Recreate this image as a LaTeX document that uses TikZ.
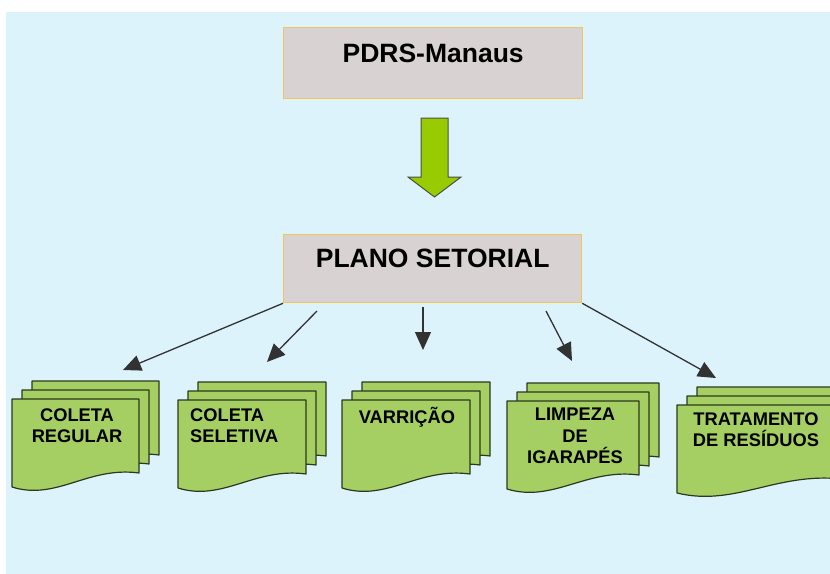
\documentclass[tikz,border=0pt]{standalone}
\usepackage{fontspec}
\setmainfont{Liberation Sans}
\usetikzlibrary{arrows.meta,calc}
\definecolor{bgblue}{RGB}{221,243,252}
\definecolor{boxfill}{RGB}{216,210,211}
\definecolor{boxedge}{RGB}{242,196,90}
\definecolor{docgreen}{RGB}{165,207,98}
\definecolor{docedge}{RGB}{45,55,30}
\definecolor{arrgreen}{RGB}{153,204,0}
\definecolor{lnk}{RGB}{50,50,50}
\newcommand\DocSheet[3]{%
  \filldraw[docsheet] (#1,#2) -- ({#1+#3},#2) -- ({#1+#3},{#2+74})
    .. controls ({#1+0.6*#3},{#2+67}) and ({#1+0.35*#3},{#2+102}) .. (#1,{#2+88}) -- cycle;}
\newcommand\DocStack[3]{%
  \DocSheet{#1+20}{#2-18}{#3}\DocSheet{#1+10}{#2-9}{#3}\DocSheet{#1}{#2}{#3}}
\tikzset{
  docsheet/.style={fill=docgreen,draw=docedge,line width=1.2pt,line join=round},
  mainbox/.style={draw=boxedge,fill=boxfill,line width=1.3pt,inner sep=0pt,
    anchor=north west,font=\bfseries\fontsize{26.5}{30}\selectfont},
  doctext/.style={font=\bfseries\fontsize{18.3}{21.3}\selectfont,inner sep=0pt,text=black},
  link/.style={draw=lnk,line width=1.3pt,-{Triangle[length=18pt,width=16pt]}},
}
\begin{document}
\begin{tikzpicture}[x=1pt,y=-1pt]
\useasboundingbox[fill=white] (0,0) rectangle (830,573);
\clip (0,0) rectangle (830,573);
\fill[bgblue] (6,12) rectangle (831,574);
% top boxes
\node[mainbox,minimum width=299pt,text height=34.5pt,text depth=36.5pt] (pdrs) at (283,27) {PDRS-Manaus};
\node[mainbox,minimum width=298pt,text height=32.5pt,text depth=35.5pt] (plano) at (283,234) {PLANO SETORIAL};
% big green arrow
\filldraw[fill=arrgreen,draw=black!70,line width=1pt,line join=miter]
  (421,118) -- (448,118) -- (448,177) -- (461,177) -- (434.5,197) -- (408,177) -- (421,177) -- cycle;
% document stacks
\DocStack{12}{399}{127}
\DocStack{178}{400}{128}
\DocStack{342}{400}{128}
\DocStack{507}{401}{132}
\DocStack{677}{405}{165}
\node[doctext,align=center] (t1) at (77,425.5) {COLETA\\REGULAR};
\node[doctext,align=left,anchor=west] (t2) at (190,426) {COLETA\\SELETIVA};
\node[doctext] (t3) at (407,417) {VARRIÇÃO};
\node[doctext,align=center] (t4) at (575,436) {LIMPEZA\\DE\\IGARAPÉS};
\node[doctext,align=center] (t5) at (756,429.5) {TRATAMENTO\\DE RESÍDUOS};
% connectors
\coordinate (s2) at (317,311);
\coordinate (s3) at (423,307);
\coordinate (s4) at (546,311);
\coordinate (e1) at (123,370);
\coordinate (e2) at (267,362);
\coordinate (e3) at (423,350);
\coordinate (e4) at (572,361);
\coordinate (e5) at (716,378);
\draw[link] (plano.south west) -- (e1);
\draw[link] (s2) -- (e2);
\draw[link] (s3) -- (e3);
\draw[link] (s4) -- (e4);
\draw[link] (plano.south east) -- (e5);
\end{tikzpicture}
\end{document}
